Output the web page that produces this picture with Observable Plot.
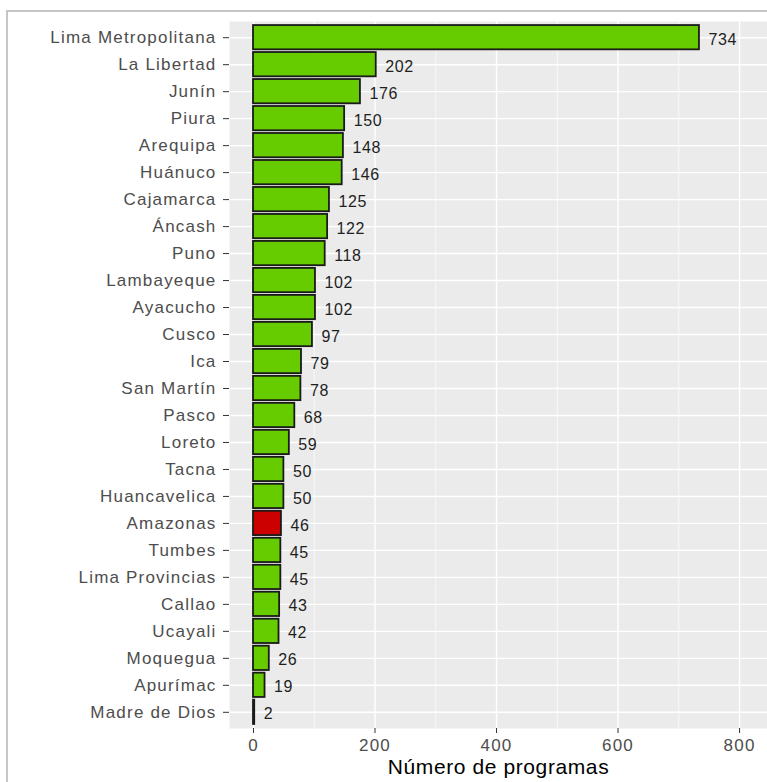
<!DOCTYPE html>
<html>
<head>
<meta charset="utf-8">
<script src="https://cdn.jsdelivr.net/npm/d3@7"></script>
<script src="https://cdn.jsdelivr.net/npm/@observablehq/plot@0.6"></script>
<style>
  html, body { margin: 0; padding: 0; background: #fff; overflow: hidden; }
  #wrap { position: relative; width: 767px; height: 782px; }
  #frameline { position: absolute; left: 6px; top: 10px; width: 800px; height: 800px;
    border-left: 2px solid #c6c6c6; border-top: 2px solid #c6c6c6; pointer-events: none; }
  g[aria-label="y-axis tick label"] text { letter-spacing: 1.2px; }
  g[aria-label="x-axis tick label"] text { letter-spacing: 1.2px; }
  g[aria-label="text"] text { letter-spacing: 0.6px; }
  .title text { letter-spacing: 1.3px; }
</style>
</head>
<body>
<div id="wrap"><div id="frameline"></div></div>
<script>
const regions = ["Lima Metropolitana","La Libertad","Junín","Piura","Arequipa","Huánuco","Cajamarca","Áncash","Puno","Lambayeque","Ayacucho","Cusco","Ica","San Martín","Pasco","Loreto","Tacna","Huancavelica","Amazonas","Tumbes","Lima Provincias","Callao","Ucayali","Moquegua","Apurímac","Madre de Dios"];
const values = [734,202,176,150,148,146,125,122,118,102,102,97,79,78,68,59,50,50,46,45,45,43,42,26,19,2];
const highlighted = ["Amazonas"];
const xTicks = [0,200,400,600,800];
const xMinor = [100,300,500,700];
const xTitle = "Número de programas";

const data = regions.map((r, i) => ({region: r, value: values[i]}));

const chart = Plot.plot({
  width: 767,
  height: 782,
  marginLeft: 229,
  marginRight: 0,
  marginTop: 21,
  marginBottom: 54,
  style: {fontFamily: "'Liberation Sans', Arial, sans-serif", background: "transparent"},
  x: {domain: [-39.5, 846], ticks: xTicks, label: null},
  y: {domain: regions, paddingInner: 0.1, paddingOuter: 0.15, round: false, label: null},
  marks: [
    Plot.frame({fill: "#EBEBEB", stroke: null}),
    Plot.gridX(xMinor, {stroke: "#ffffff", strokeOpacity: 1, strokeWidth: 0.7}),
    Plot.gridX(xTicks, {stroke: "#ffffff", strokeOpacity: 1, strokeWidth: 1.4}),
    Plot.gridY({stroke: "#ffffff", strokeOpacity: 1, strokeWidth: 1.4}),
    Plot.barX(data, {
      x: "value", y: "region",
      fill: d => highlighted.includes(d.region) ? "#CC0000" : "#66CC00",
      stroke: "#1a1a1a", strokeWidth: 1.8
    }),
    Plot.text(data, {
      x: "value", y: "region", text: d => String(d.value),
      textAnchor: "start", dx: 9, dy: 2, fontSize: 16, fill: "#1f1f1f"
    }),
    Plot.axisY({tickSize: 6, tickPadding: 7, fontSize: 17, color: "#4d4d4d", stroke: "#333333", label: null}),
    Plot.axisX(xTicks, {tickSize: 5, tickPadding: 5, fontSize: 17, color: "#4d4d4d", stroke: "#333333", label: null}),
    Plot.text([xTitle], {
      frameAnchor: "bottom", dy: 39, text: d => d, fontSize: 21, fill: "#000000",
      lineAnchor: "middle", className: "title"
    })
  ]
});
document.getElementById("wrap").prepend(chart);
</script>
</body>
</html>
